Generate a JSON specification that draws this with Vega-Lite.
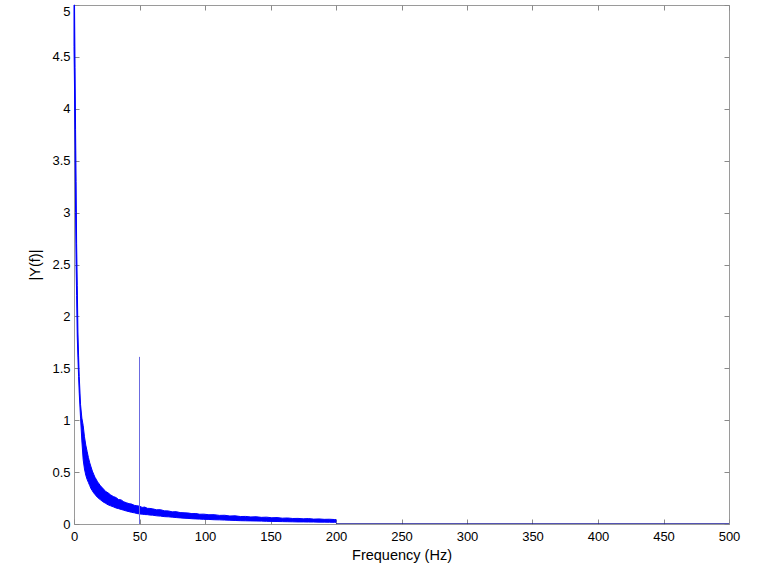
{
  "$schema": "https://vega.github.io/schema/vega-lite/v6.json",
  "width": 655,
  "height": 519,
  "autosize": {"type": "none"},
  "padding": {"left": 74, "top": 5, "right": 49, "bottom": 55},
  "background": "white",
  "config": {
    "view": {"stroke": "#9a9a9a", "strokeWidth": 1},
    "axis": {
      "grid": false,
      "domain": false,
      "tickColor": "#8a8a8a",
      "tickSize": -5,
      "labelFont": "Liberation Sans",
      "labelFontSize": 13,
      "labelColor": "#000000",
      "labelFlush": false,
      "labelOverlap": false,
      "labelBound": false,
      "titleFont": "Liberation Sans",
      "titleFontSize": 14.5,
      "titleFontWeight": "normal",
      "titleColor": "#000000"
    }
  },
  "datasets": {
    "band": [
      {"f": 0, "lo": 4.6, "hi": 5.0},
      {"f": 0.4, "lo": 4.2, "hi": 5.0},
      {"f": 0.8, "lo": 3.6, "hi": 4.4},
      {"f": 1.2, "lo": 3.0, "hi": 3.8},
      {"f": 1.6, "lo": 2.5, "hi": 3.3},
      {"f": 2.0, "lo": 2.2, "hi": 2.7},
      {"f": 2.5, "lo": 1.8, "hi": 2.3},
      {"f": 3.0, "lo": 1.6, "hi": 1.85},
      {"f": 3.5, "lo": 1.42, "hi": 1.62},
      {"f": 4, "lo": 1.26, "hi": 1.42},
      {"f": 5, "lo": 1.02, "hi": 1.15},
      {"f": 6, "lo": 0.8, "hi": 1.02},
      {"f": 7, "lo": 0.62, "hi": 0.95},
      {"f": 8, "lo": 0.53, "hi": 0.84},
      {"f": 9, "lo": 0.47, "hi": 0.76},
      {"f": 10, "lo": 0.43, "hi": 0.7},
      {"f": 11, "lo": 0.4, "hi": 0.64},
      {"f": 12, "lo": 0.37, "hi": 0.59},
      {"f": 13, "lo": 0.34, "hi": 0.55},
      {"f": 14, "lo": 0.32, "hi": 0.51},
      {"f": 15, "lo": 0.3, "hi": 0.48},
      {"f": 16, "lo": 0.285, "hi": 0.45},
      {"f": 17, "lo": 0.27, "hi": 0.43},
      {"f": 18, "lo": 0.255, "hi": 0.405},
      {"f": 19, "lo": 0.245, "hi": 0.39},
      {"f": 20, "lo": 0.235, "hi": 0.37},
      {"f": 22, "lo": 0.215, "hi": 0.345},
      {"f": 24, "lo": 0.2, "hi": 0.315},
      {"f": 26, "lo": 0.185, "hi": 0.3},
      {"f": 28, "lo": 0.175, "hi": 0.28},
      {"f": 30, "lo": 0.165, "hi": 0.265},
      {"f": 32, "lo": 0.155, "hi": 0.255},
      {"f": 34, "lo": 0.148, "hi": 0.236},
      {"f": 36, "lo": 0.14, "hi": 0.232},
      {"f": 38, "lo": 0.133, "hi": 0.214},
      {"f": 40, "lo": 0.125, "hi": 0.205},
      {"f": 42, "lo": 0.119, "hi": 0.196},
      {"f": 44, "lo": 0.112, "hi": 0.192},
      {"f": 46, "lo": 0.108, "hi": 0.18},
      {"f": 48, "lo": 0.101, "hi": 0.176},
      {"f": 50, "lo": 0.097, "hi": 0.172},
      {"f": 52, "lo": 0.095, "hi": 0.16},
      {"f": 54, "lo": 0.091, "hi": 0.163},
      {"f": 56, "lo": 0.09, "hi": 0.151},
      {"f": 58, "lo": 0.086, "hi": 0.15},
      {"f": 60, "lo": 0.085, "hi": 0.146},
      {"f": 63, "lo": 0.079, "hi": 0.137},
      {"f": 66, "lo": 0.076, "hi": 0.138},
      {"f": 69, "lo": 0.071, "hi": 0.127},
      {"f": 72, "lo": 0.069, "hi": 0.126},
      {"f": 75, "lo": 0.066, "hi": 0.117},
      {"f": 78, "lo": 0.062, "hi": 0.119},
      {"f": 81, "lo": 0.059, "hi": 0.11},
      {"f": 84, "lo": 0.056, "hi": 0.108},
      {"f": 87, "lo": 0.054, "hi": 0.106},
      {"f": 90, "lo": 0.051, "hi": 0.1},
      {"f": 93, "lo": 0.049, "hi": 0.101},
      {"f": 96, "lo": 0.047, "hi": 0.094},
      {"f": 99, "lo": 0.045, "hi": 0.095},
      {"f": 103, "lo": 0.044, "hi": 0.089},
      {"f": 107, "lo": 0.041, "hi": 0.09},
      {"f": 111, "lo": 0.04, "hi": 0.083},
      {"f": 115, "lo": 0.038, "hi": 0.084},
      {"f": 119, "lo": 0.036, "hi": 0.077},
      {"f": 123, "lo": 0.034, "hi": 0.079},
      {"f": 127, "lo": 0.032, "hi": 0.072},
      {"f": 131, "lo": 0.031, "hi": 0.073},
      {"f": 135, "lo": 0.03, "hi": 0.068},
      {"f": 139, "lo": 0.029, "hi": 0.07},
      {"f": 143, "lo": 0.028, "hi": 0.064},
      {"f": 147, "lo": 0.026, "hi": 0.066},
      {"f": 151, "lo": 0.025, "hi": 0.06},
      {"f": 155, "lo": 0.024, "hi": 0.062},
      {"f": 159, "lo": 0.023, "hi": 0.056},
      {"f": 163, "lo": 0.022, "hi": 0.058},
      {"f": 167, "lo": 0.021, "hi": 0.053},
      {"f": 171, "lo": 0.02, "hi": 0.054},
      {"f": 175, "lo": 0.02, "hi": 0.05},
      {"f": 179, "lo": 0.019, "hi": 0.052},
      {"f": 183, "lo": 0.019, "hi": 0.047},
      {"f": 187, "lo": 0.018, "hi": 0.049},
      {"f": 191, "lo": 0.018, "hi": 0.045},
      {"f": 195, "lo": 0.017, "hi": 0.046},
      {"f": 199, "lo": 0.016, "hi": 0.043},
      {"f": 200, "lo": 0.016, "hi": 0.042}
    ],
    "flat": [
      {"f": 200, "v": 0},
      {"f": 500, "v": 0}
    ],
    "spike": [
      {"f": 50, "v0": 0, "v1": 1.61}
    ]
  },
  "resolve": {"axis": {"x": "independent", "y": "independent"}},
  "layer": [
    {
      "data": {"name": "band"},
      "mark": {"type": "area", "color": "#0000ff", "stroke": "#0000ff", "strokeWidth": 1},
      "encoding": {
        "x": {
          "field": "f", "type": "quantitative",
          "scale": {"domain": [0, 500], "nice": false, "zero": false},
          "axis": {"orient": "bottom", "values": [0, 50, 100, 150, 200, 250, 300, 350, 400, 450, 500], "title": "Frequency (Hz)", "labelPadding": 11, "titlePadding": 5}
        },
        "y": {
          "field": "lo", "type": "quantitative",
          "scale": {"domain": [0, 5], "nice": false, "zero": false},
          "axis": {
            "orient": "left",
            "values": [0, 0.5, 1, 1.5, 2, 2.5, 3, 3.5, 4, 4.5, 5],
            "format": "~g",
            "title": "|Y(f)|",
            "labelPadding": 9,
            "titlePadding": 9,
            "labelBaseline": {"condition": {"test": "datum.value == 5", "value": "top"}, "value": "middle"}
          }
        },
        "y2": {"field": "hi"}
      }
    },
    {
      "data": {"name": "flat"},
      "mark": {"type": "line", "color": "#1a1a9a", "strokeWidth": 1.5, "clip": true},
      "encoding": {
        "x": {
          "field": "f", "type": "quantitative",
          "axis": {"orient": "top", "values": [0, 50, 100, 150, 200, 250, 300, 350, 400, 450, 500], "labels": false, "title": null}
        },
        "y": {
          "field": "v", "type": "quantitative",
          "axis": {"orient": "right", "values": [0, 0.5, 1, 1.5, 2, 2.5, 3, 3.5, 4, 4.5, 5], "labels": false, "title": null}
        }
      }
    },
    {
      "data": {"name": "spike"},
      "mark": {"type": "rule", "stroke": "#6b6be0", "strokeWidth": 1},
      "encoding": {
        "x": {"field": "f", "type": "quantitative", "axis": null},
        "y": {"field": "v0", "type": "quantitative", "axis": null},
        "y2": {"field": "v1"}
      }
    }
  ]
}
